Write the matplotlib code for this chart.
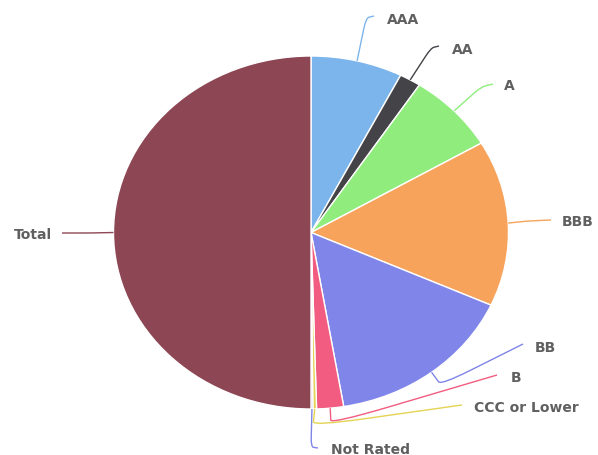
import numpy as np
import matplotlib
matplotlib.use("Agg")
import matplotlib.pyplot as plt
from matplotlib.path import Path
from matplotlib.patches import PathPatch

# ---- data ----
categories = ["AAA", "AA", "A", "BBB", "BB", "B", "CCC or Lower", "Not Rated", "Total"]
values = [7.5, 1.75, 7.3, 15.2, 15.6, 2.2, 0.3, 0.15, 50.0]
colors = ["#7cb5ec", "#434348", "#90ed7d", "#f7a35c", "#8085e9",
          "#f15c80", "#e4d354", "#8085e8", "#8d4653"]

# ---- layout (pixels in a 598x456 canvas) ----
W, H = 598, 456
CX, CY = 311, 233.5
RX, RY = 197.5, 176.5

def px(x, y):
    return ((x - CX) / RX, (CY - y) / RY)

# label text anchor (left x, center y), connector elbow, connector end
label_layout = {
    "AAA":          dict(text=(387, 20),  elbow=(366, 19),  end=(374, 17), ha="left"),
    "AA":           dict(text=(452, 50),  elbow=(431, 49),  end=(439, 47), ha="left"),
    "A":            dict(text=(504, 86),  elbow=(481, 88),  end=(493, 85), ha="left"),
    "BBB":          dict(text=(562, 222), elbow=(528, 222), end=(551, 221), ha="left"),
    "BB":           dict(text=(535, 348), elbow=(441, 386), end=(523, 345), ha="left"),
    "B":            dict(text=(511, 378), elbow=(331, 425), end=(497, 376), ha="left"),
    "CCC or Lower": dict(text=(474, 408), elbow=(313, 427), end=(462, 406), ha="left"),
    "Not Rated":    dict(text=(331, 450), elbow=(311, 448), end=(318, 449), ha="left"),
    "Total":        dict(text=(52, 235),  elbow=(90, 234),  end=(62, 234), ha="right"),
}

fig = plt.figure(figsize=(W / 100, H / 100), dpi=100)
ax = fig.add_axes([0, 0, 1, 1])
ax.axis("off")

wedges, _ = ax.pie(values, colors=colors, startangle=90, counterclock=False,
                   radius=1.0, center=(0, 0),
                   wedgeprops=dict(edgecolor="white", linewidth=1.0))
ax.set_xlim(-CX / RX, (W - CX) / RX)
ax.set_ylim(-(H - CY) / RY, CY / RY)
ax.set_aspect("auto")

for w, cat, col in zip(wedges, categories, colors):
    lay = label_layout[cat]
    mid = np.deg2rad((w.theta1 + w.theta2) / 2)
    start = (np.cos(mid), np.sin(mid))
    elbow = px(*lay["elbow"])
    end = px(*lay["end"])
    # rounded corner at elbow
    a = (start[0] + 0.75 * (elbow[0] - start[0]), start[1] + 0.75 * (elbow[1] - start[1]))
    b = (elbow[0] + 0.35 * (end[0] - elbow[0]), elbow[1] + 0.35 * (end[1] - elbow[1]))
    verts = [start, a, elbow, b, end]
    codes = [Path.MOVETO, Path.LINETO, Path.CURVE3, Path.CURVE3, Path.LINETO]
    ax.add_patch(PathPatch(Path(verts, codes), facecolor="none", edgecolor=col, lw=1.0))
    tx, ty = px(*lay["text"])
    ax.text(tx, ty, cat, ha=lay["ha"], va="center", fontsize=10,
            color="#606060", fontweight="bold", family="DejaVu Sans")

fig.savefig("out.png", dpi=100)
